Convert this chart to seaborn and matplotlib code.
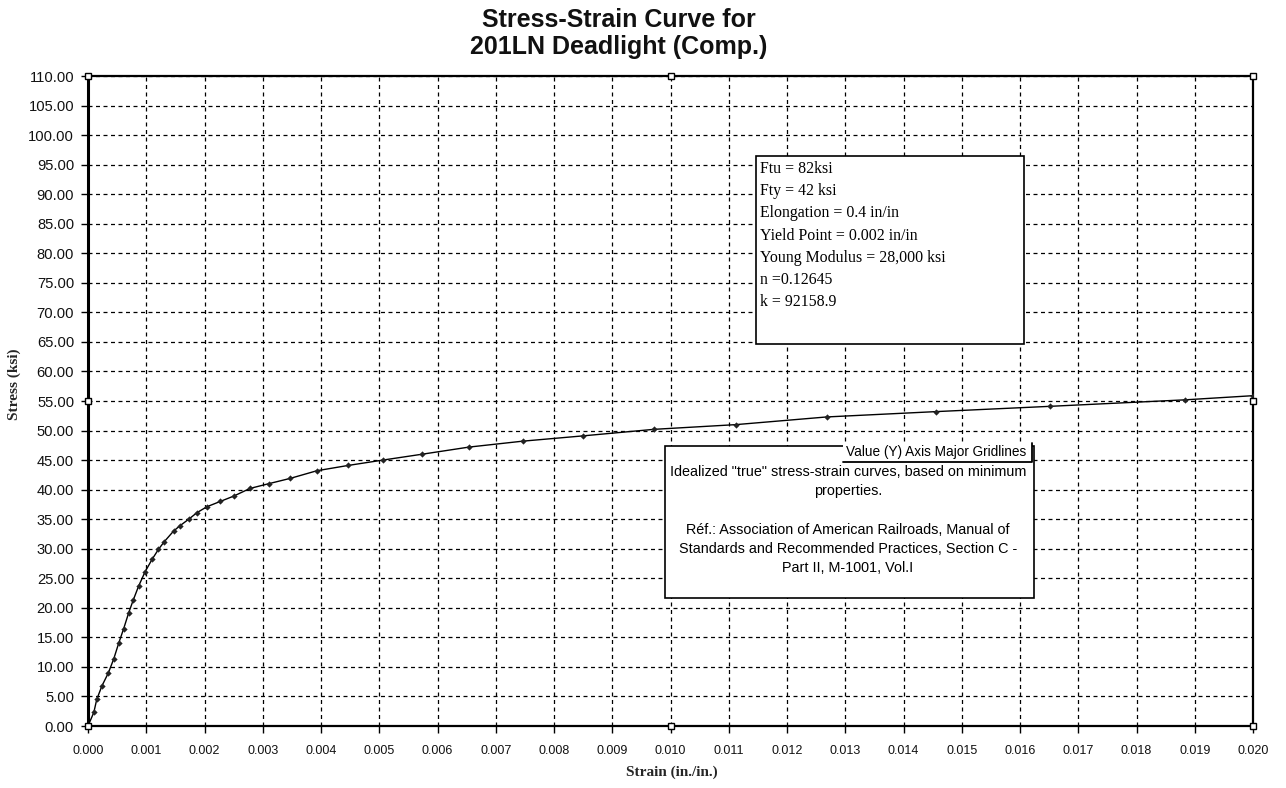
import matplotlib
matplotlib.use("Agg")
import matplotlib.pyplot as plt
import seaborn as sns
import pandas as pd
from matplotlib.patches import Rectangle
from matplotlib.lines import Line2D

# Compression stress-strain curve, 201LN deadlight
strain = [0.0, 0.0001, 0.00015, 0.00024, 0.00035, 0.00044, 0.00053, 0.00061,
          0.0007, 0.00078, 0.00087, 0.00098, 0.0011, 0.00121, 0.00131, 0.00147,
          0.00158, 0.00173, 0.00187, 0.00204, 0.00227, 0.0025, 0.00278, 0.0031,
          0.00347, 0.00393, 0.00447, 0.00506, 0.00574, 0.00654, 0.00746, 0.0085,
          0.00971, 0.01112, 0.01268, 0.01455, 0.01652, 0.01884, 0.020]
stress = [0.0, 2.3, 4.5, 6.8, 9.0, 11.3, 14.1, 16.4,
          19.2, 21.4, 23.7, 26.1, 28.2, 29.9, 31.2, 33.0,
          33.9, 35.0, 36.1, 37.1, 38.0, 38.9, 40.2, 41.0,
          41.9, 43.2, 44.1, 45.0, 46.0, 47.2, 48.2, 49.1,
          50.2, 51.0, 52.3, 53.2, 54.1, 55.2, 55.9]

x_ticks = [i / 1000 for i in range(0, 21)]
y_ticks = list(range(0, 111, 5))

title_lines = ["Stress-Strain Curve for", "201LN Deadlight (Comp.)"]
props_lines = ["Ftu = 82ksi", "Fty = 42 ksi", "Elongation = 0.4 in/in",
               "Yield Point = 0.002 in/in", "Young Modulus = 28,000 ksi",
               "n =0.12645", "k = 92158.9"]
note_lines = ['Idealized "true" stress-strain curves, based on minimum',
              "properties.", "",
              "Réf.: Association of American Railroads, Manual of",
              "Standards and Recommended Practices, Section C -",
              "Part II, M-1001, Vol.I"]

df = pd.DataFrame({"strain": strain, "stress": stress})

sns.set_theme(style="white")
plt.rcParams["font.family"] = ["Liberation Sans", "DejaVu Sans"]

W, H = 1286, 788
fig = plt.figure(figsize=(W / 100, H / 100), dpi=100)
fig.patch.set_facecolor("white")


def fx(px):
    return px / W


def fy(py):
    return 1 - py / H


ax = fig.add_axes([fx(88), fy(726), fx(1253) - fx(88), fy(76) - fy(726)])
ax.set_facecolor("white")

sns.lineplot(data=df, x="strain", y="stress", ax=ax, color="black",
             linewidth=1.0, marker="D", markersize=3.2, markeredgewidth=0,
             markerfacecolor="#222222", zorder=3)

ax.set_xlim(0, 0.020)
ax.set_ylim(0, 110)
ax.set_xticks(x_ticks)
ax.set_yticks(y_ticks)
ax.set_xticklabels([f"{v:.3f}" for v in x_ticks], fontsize=9)
ax.set_yticklabels([f"{v:.2f}" for v in y_ticks], fontsize=10.6)
ax.tick_params(axis="both", direction="out", length=5, width=1, color="black",
               labelcolor="#111111", left=True, bottom=True)
ax.tick_params(axis="y", pad=5)
ax.tick_params(axis="x", pad=9)

ax.grid(True, color="black", linestyle=(0, (3.2, 2.8)), linewidth=0.9)
for side in ["left", "bottom", "top", "right"]:
    ax.spines[side].set_visible(True)
    ax.spines[side].set_color("black")
    ax.spines[side].set_linewidth(1.6)
ax.spines["left"].set_linewidth(2.2)

ax.set_xlabel("Strain (in./in.)", fontfamily="Liberation Serif",
              fontweight="bold", fontsize=11)
ax.set_ylabel("Stress (ksi)", fontfamily="Liberation Serif",
              fontweight="bold", fontsize=11)
ax.xaxis.set_label_coords((672 - 88) / 1165, (726 - 766) / 650)
ax.yaxis.set_label_coords((21 - 88) / 1165, (726 - 384) / 650)

for i, line in enumerate(title_lines):
    fig.text(fx(619), fy(20 + 27 * i), line, ha="center", va="center",
             fontsize=18, fontweight="bold", color="#111111")

# selection handles around the plot area
for hx, hy in [(0, 0), (0.5, 0), (1, 0), (0, 0.5), (1, 0.5), (0, 1), (0.5, 1), (1, 1)]:
    ax.plot(hx, hy, marker="s", markersize=5, markerfacecolor="white",
            markeredgecolor="black", markeredgewidth=1.0,
            transform=ax.transAxes, clip_on=False, zorder=6)

# material properties box
fig.patches.append(Rectangle((fx(756), fy(344)), fx(1024) - fx(756),
                             fy(156) - fy(344), transform=fig.transFigure,
                             facecolor="white", edgecolor="black",
                             linewidth=1.2, zorder=5))
for i, line in enumerate(props_lines):
    fig.text(fx(760), fy(169 + 22.2 * i), line, ha="left", va="center",
             fontsize=11.4, fontfamily="Liberation Serif", color="black",
             zorder=6)

# reference note box
fig.patches.append(Rectangle((fx(665), fy(598)), fx(1034) - fx(665),
                             fy(446) - fy(598), transform=fig.transFigure,
                             facecolor="white", edgecolor="black",
                             linewidth=1.2, zorder=5))
note_y = [472, 491, 510, 530, 549, 568]
for y, line in zip(note_y, note_lines):
    if line:
        fig.text(fx(848), fy(y), line, ha="center", va="center",
                 fontsize=10.4, color="black", zorder=6)

# gridline tooltip, shadowed on its lower and right edges
fig.patches.append(Rectangle((fx(843), fy(462)), fx(1032) - fx(843),
                             fy(443) - fy(462), transform=fig.transFigure,
                             facecolor="white", edgecolor="none", zorder=7))
fig.lines.append(Line2D([fx(843), fx(1032), fx(1032)], [fy(462), fy(462), fy(443)],
                        transform=fig.transFigure, color="black",
                        linewidth=1.3, zorder=8))
fig.text(fx(936), fy(452), "Value (Y) Axis Major Gridlines", ha="center",
         va="center", fontsize=9.8, color="black", zorder=8)

fig.savefig("out.png", dpi=100, facecolor="white")
